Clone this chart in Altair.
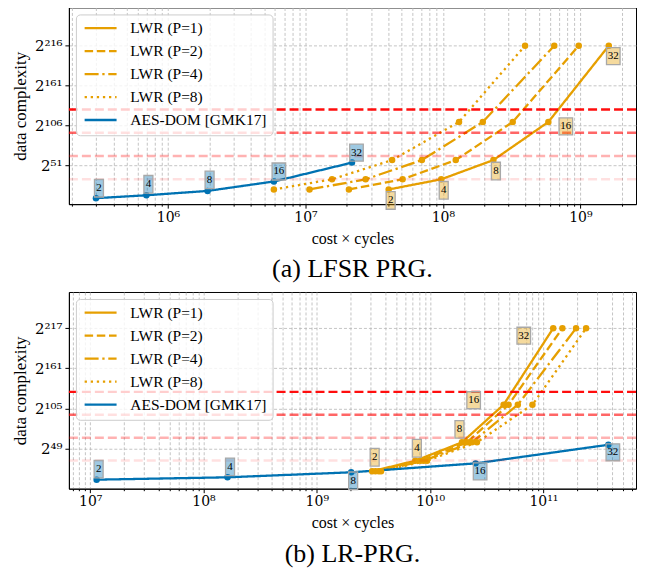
import altair as alt
import pandas as pd
import math

SERIF = "Liberation Serif"
TICKFONT = "DejaVu Serif"
SERIES = ["LWR (P=1)", "LWR (P=2)", "LWR (P=4)", "LWR (P=8)", "AES-DOM [GMK17]"]
COLORS = ["#E69F00", "#E69F00", "#E69F00", "#E69F00", "#0072B2"]
DASHES = [[1, 0], [8.5, 3.7], [14, 3.7, 2.3, 3.7], [2.3, 3.8], [1, 0]]
N_LABELS = ["2", "4", "8", "16", "32"]
THRESH_EXP = [128, 96, 64, 32]
THRESH_OPACITY = [0.95, 0.6, 0.3, 0.12]

# ---- panel (a): LFSR PRG (x = cost x cycles, y = log2 data complexity)
A_X_P1 = [4.03e7, 9.72e7, 2.33e8, 5.85e8, 1.61e9]
A_X_P2 = [2.07e7, 5.09e7, 1.24e8, 3.22e8, 9.73e8]
A_X_P4 = [1.07e7, 2.74e7, 7.03e7, 1.95e8, 6.46e8]
A_X_P8 = [5.89e6, 1.56e7, 4.27e7, 1.31e8, 3.96e8]
A_Y_LWR = [18, 32, 58.5, 111, 216]
A_X_AES = [2.99e5, 6.96e5, 1.94e6, 5.89e6, 2.18e7]
A_Y_AES = [6, 10, 16, 29, 55]
A_YTICKS = [51, 106, 161, 216]
A_XDOM = [1.90e5, 2.54e9]
A_YDOM = [-2.2, 268.7]
A_DECADES = [5, 6, 7, 8, 9]
A_BLUE_DX = [3, 2, 2, 5, 4.5]
A_BLUE_DY = [-10, -11, -11, -10, -10]
A_ORANGE_DX = [2, 2.5, 2.5, 17.5, 4.5]
A_ORANGE_DY = [11, 11, 11, 4.5, 10.5]

# ---- panel (b): LR-PRG
B_X_P1 = [3.08e9, 7.41e9, 1.91e10, 4.45e10, 1.22e11]
B_X_P2 = [3.29e9, 8.20e9, 2.11e10, 4.92e10, 1.47e11]
B_X_P4 = [3.52e9, 8.77e9, 2.34e10, 5.94e10, 1.94e11]
B_X_P8 = [3.69e9, 9.40e9, 2.59e10, 8.00e10, 2.38e11]
B_Y_LWR = [17, 31.7, 57.4, 110, 217]
B_X_AES = [1.14e7, 1.63e8, 2.01e9, 2.52e10, 3.74e11]
B_Y_AES = [5.2, 8.5, 15.5, 28, 54]
B_YTICKS = [49, 105, 161, 217]
B_XDOM = [6.49e6, 6.56e11]
B_YDOM = [-7.4, 267.7]
B_DECADES = [6, 7, 8, 9, 10, 11]
B_BLUE_DX = [2, 2.5, 2, 4.5, 4.5]
B_BLUE_DY = [-10.5, -10.5, 8.5, 8, 7.5]
B_ORANGE_DX = [2.5, 1.5, -2.5, -30, -29.5]
B_ORANGE_DY = [-14, -12.5, -13, -4.5, 7.5]

W, H = 568, 197
SUP = str.maketrans("0123456789", "⁰¹²³⁴⁵⁶⁷⁸⁹")


def panel(lwr_xs, y_lwr, x_aes, y_aes, xdom, ydom, yticks, decades,
          bdx, bdy, odx, ody, caption):
    rows = []
    for s, xs in zip(SERIES[:4], lwr_xs):
        for i, (x, y) in enumerate(zip(xs, y_lwr)):
            rows.append({"series": s, "i": i, "x": x, "y": y})
    for i, (x, y) in enumerate(zip(x_aes, y_aes)):
        rows.append({"series": SERIES[4], "i": i, "x": x, "y": y})
    df = pd.DataFrame(rows)

    kx = W / (math.log10(xdom[1]) - math.log10(xdom[0]))
    ky = H / (ydom[1] - ydom[0])

    def labels(xs, ys, dxs, dys):
        out = []
        for x, y, t, dx, dy in zip(xs, ys, N_LABELS, dxs, dys):
            lx = x * 10 ** (dx / kx)
            ly = y - dy / ky
            hw = 4.5 if len(t) == 1 else 6.8
            hh = 8.8 if len(t) == 1 else 8.5
            out.append({"t": t, "lx": lx, "ly": ly,
                        "x1": lx * 10 ** (-hw / kx), "x2": lx * 10 ** (hw / kx),
                        "y1": ly - hh / ky, "y2": ly + hh / ky})
        return pd.DataFrame(out)

    blue_lab = labels(x_aes, y_aes, bdx, bdy)
    orange_lab = labels(lwr_xs[0], y_lwr, odx, ody)

    xscale = alt.Scale(type="log", domain=xdom, nice=False)
    yscale = alt.Scale(domain=ydom, nice=False, zero=False)

    xvals = []
    for d in decades:
        for m in range(1, 10):
            v = float(m * 10 ** d)
            if xdom[0] <= v <= xdom[1]:
                xvals.append(v)
    sup_list = "[" + ",".join("'" + str(e).translate(SUP) + "'" for e in range(0, 13)) + "]"
    ex = "round(log(datum.value)/LN10)"
    is_major = f"abs(log(datum.value)/LN10 - {ex}) < 0.001"
    x_label_expr = f"({is_major}) ? '10' + {sup_list}[{ex}] : ''"
    ylabs = "[" + ",".join("'2" + str(t).translate(SUP) + "'" for t in yticks) + "]"
    y_label_expr = f"{ylabs}[indexof({list(yticks)}, datum.value)]"

    xaxis = alt.Axis(values=xvals, labelExpr=x_label_expr, title="cost × cycles",
                     tickSize={"condition": {"test": is_major, "value": 4}, "value": 2},
                     labelFont=TICKFONT,
                     labelFontSize=14, titleFontSize=16, labelPadding=2, titlePadding=6,
                     gridDash=[3, 2], gridColor="#b5b5b5", gridWidth=0.8, labelFlush=False,
                     labelOverlap=False)
    yaxis = alt.Axis(values=yticks, labelExpr=y_label_expr, title="data complexity",
                     tickSize=4, labelFont=TICKFONT, labelFontSize=15, titleFontSize=17,
                     labelPadding=3, titlePadding=4, minExtent=35, maxExtent=35,
                     gridDash=[3, 2], gridColor="#b5b5b5", gridWidth=0.8)

    base = alt.Chart(df)
    lines = base.mark_line(strokeWidth=2.3).encode(
        x=alt.X("x:Q", scale=xscale, axis=xaxis),
        y=alt.Y("y:Q", scale=yscale, axis=yaxis),
        color=alt.Color("series:N", scale=alt.Scale(domain=SERIES, range=COLORS),
                        legend=alt.Legend(title=None)),
        strokeDash=alt.StrokeDash("series:N", scale=alt.Scale(domain=SERIES, range=DASHES),
                                  legend=alt.Legend(title=None)),
        order="i:Q",
    )
    points = base.mark_circle(size=42, opacity=1).encode(
        x=alt.X("x:Q", scale=xscale),
        y=alt.Y("y:Q", scale=yscale),
        fill=alt.Fill("series:N", scale=alt.Scale(domain=SERIES, range=COLORS), legend=None),
    )
    thr = pd.DataFrame({"e": THRESH_EXP, "op": THRESH_OPACITY})
    rules = alt.Chart(thr).mark_rule(color="#ff0000", strokeWidth=2.5, strokeDash=[9, 4]).encode(
        y=alt.Y("e:Q", scale=yscale),
        opacity=alt.Opacity("op:Q", scale=None),
    )

    def boxes(ldf, fill):
        rect = alt.Chart(ldf).mark_rect(fill=fill, fillOpacity=0.38, stroke="#a8a8a8",
                                        strokeWidth=1.3).encode(
            x=alt.X("x1:Q", scale=xscale), x2="x2:Q",
            y=alt.Y("y1:Q", scale=yscale), y2="y2:Q",
        )
        txt = alt.Chart(ldf).mark_text(font=SERIF, fontSize=11, color="black",
                                       baseline="middle", align="center").encode(
            x=alt.X("lx:Q", scale=xscale),
            y=alt.Y("ly:Q", scale=yscale),
            text="t:N",
        )
        return rect + txt

    layer = alt.layer(lines, points, rules, boxes(blue_lab, "#0072B2"),
                      boxes(orange_lab, "#E69F00")).properties(
        width=W, height=H,
        title=alt.TitleParams(caption, orient="bottom", anchor="middle", fontSize=26,
                              font=SERIF, fontWeight="normal", color="black", offset=10),
    )
    return layer


chart_a = panel([A_X_P1, A_X_P2, A_X_P4, A_X_P8], A_Y_LWR, A_X_AES, A_Y_AES,
                A_XDOM, A_YDOM, A_YTICKS, A_DECADES,
                A_BLUE_DX, A_BLUE_DY, A_ORANGE_DX, A_ORANGE_DY, "(a) LFSR PRG.")
chart_b = panel([B_X_P1, B_X_P2, B_X_P4, B_X_P8], B_Y_LWR, B_X_AES, B_Y_AES,
                B_XDOM, B_YDOM, B_YTICKS, B_DECADES,
                B_BLUE_DX, B_BLUE_DY, B_ORANGE_DX, B_ORANGE_DY, "(b) LR-PRG.")

chart = alt.vconcat(chart_a, chart_b, spacing=8).resolve_scale(
    color="independent", strokeDash="independent", fill="independent",
).resolve_legend(color="independent", strokeDash="independent").properties(
    padding={"left": 3, "top": -2, "right": 0, "bottom": 0},
).configure_view(
    stroke="black", strokeWidth=1,
).configure_axis(
    labelFont=SERIF, titleFont=SERIF, labelColor="black", titleColor="black",
    titleFontWeight="normal", domainColor="black", tickColor="black", domainWidth=1,
).configure_legend(
    orient="top-left", offset=7, fillColor="rgba(255,255,255,0.8)", strokeColor="#cccccc",
    cornerRadius=4, padding=6, labelFont=SERIF, labelFontSize=15.5, labelColor="black",
    rowPadding=6, symbolType="M-1,0L5.4,0", symbolSize=100, symbolStrokeWidth=2.3,
    labelOffset=33,
)

chart.save("out.html", embed_options={"renderer": "svg", "actions": False})
